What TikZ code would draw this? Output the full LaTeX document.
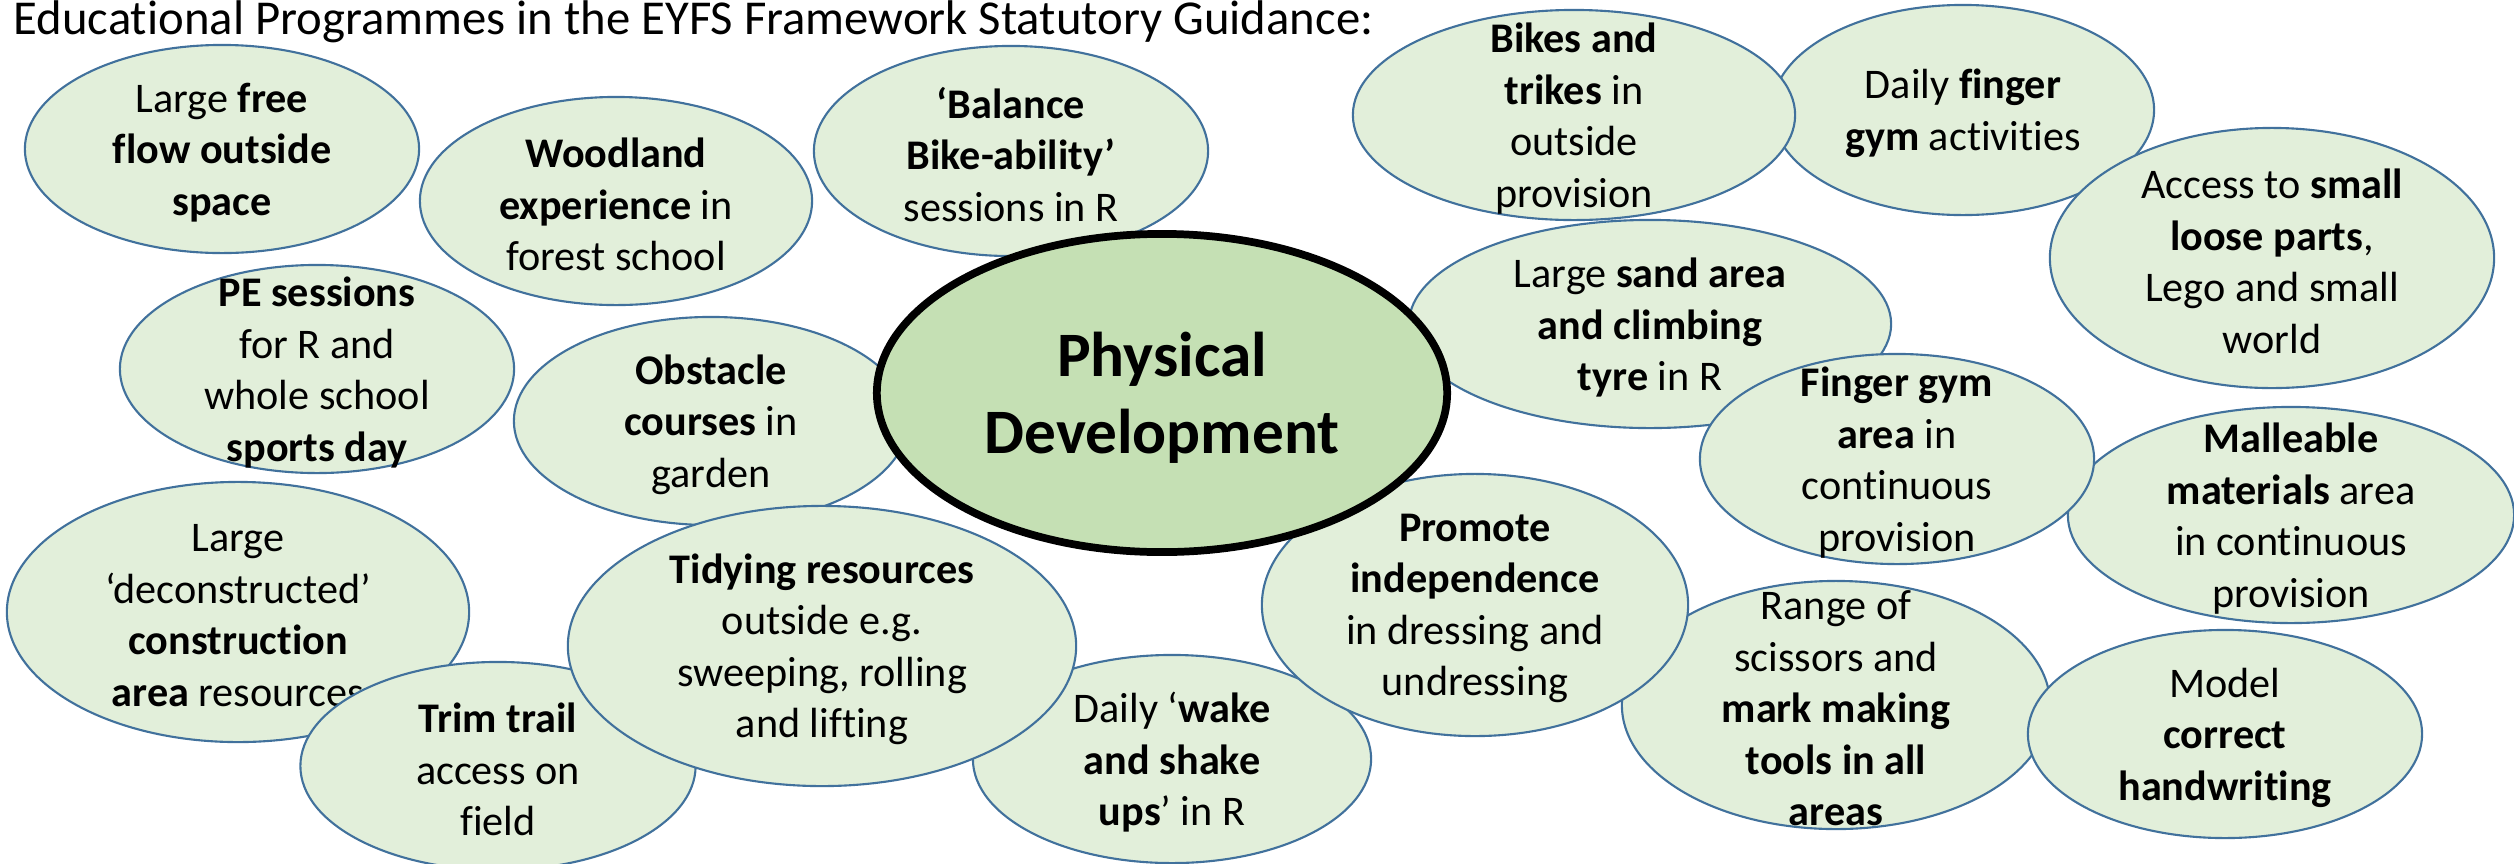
\documentclass[tikz,border=0pt]{standalone}
\usepackage{fontspec}
\setmainfont{Carlito}[Ligatures=NoCommon]
\usetikzlibrary{shapes.geometric}
\definecolor{bubfill}{HTML}{E2EFDA}
\definecolor{bubline}{HTML}{41719C}
\definecolor{corefill}{HTML}{C5E0B4}
\begin{document}
\begin{tikzpicture}[x=0.01cm,y=-0.01cm,
  bub/.style 2 args={ellipse, draw=bubline, fill=bubfill, line width=0.6pt,
    minimum width=#1, minimum height=#2, inner sep=0pt},
  txt/.style={align=center, font=\fontsize{12}{14.65}\selectfont, inner sep=0pt, yshift=-0.035cm},
  core/.style={ellipse, draw=black, fill=corefill, line width=2.2pt,
    minimum width=5.7cm, minimum height=3.18cm, inner sep=0pt},
  coretxt/.style={align=center, font=\fontsize{18}{22}\selectfont\bfseries, inner sep=0pt, yshift=-0.045cm},
  titletxt/.style={font=\fontsize{13.85}{16}\selectfont, inner sep=0pt}]
\useasboundingbox (0,0) rectangle (2514,863);

\node[titletxt, anchor=base west] (title) at (13,34) {Educational Programmes in the EYFS Framework Statutory Guidance:};

\node[bub={3.94cm}{2.08cm}] (A) at (222,149) {};
\node[txt] (tA) at (A) {Large \textbf{free}\\\textbf{flow outside}\\\textbf{space}};

\node[bub={3.92cm}{2.08cm}] (B) at (616,201) {};
\node[txt] (tB) at (B) {\textbf{Woodland}\\\textbf{experience} in\\forest school};

\node[bub={3.94cm}{2.10cm}] (C) at (1011,151) {};
\node[txt] (tC) at (C) {\textbf{‘Balance}\\\textbf{Bike-ability’}\\sessions in R};

\node[bub={3.94cm}{2.08cm}] (D) at (317,369) {};
\node[txt] (tD) at (D) {\textbf{PE sessions}\\for R and\\whole school\\\textbf{sports day}};

\node[bub={3.94cm}{2.08cm}] (E) at (711,421) {};
\node[txt] (tE) at (E) {\textbf{Obstacle}\\\textbf{courses} in\\garden};

\node[bub={4.62cm}{2.60cm}] (F) at (238,612) {};
\node[txt] (tF) at (F) {Large\\‘deconstructed’\\\textbf{construction}\\\textbf{area} resources};

\node[bub={3.95cm}{2.08cm}] (G) at (498,766) {};
\node[txt] (tG) at (G) {\textbf{Trim trail}\\access on\\field};

\node[bub={3.98cm}{2.08cm}] (I) at (1172,759) {};
\node[txt] (tI) at (I) {Daily ‘\textbf{wake}\\\textbf{and shake}\\\textbf{ups}’ in R};

\node[bub={5.08cm}{2.80cm}] (H) at (822,646) {};
\node[txt] (tH) at (H) {\textbf{Tidying resources}\\outside e.g.\\sweeping, rolling\\and lifting};

\node[bub={4.82cm}{2.08cm}] (M) at (1650,324) {};
\node[txt] (tM) at (M) {Large \textbf{sand area}\\\textbf{and climbing}\\\textbf{tyre} in R};

\node[bub={3.82cm}{2.10cm}] (K) at (1963,110) {};
\node[txt] (tK) at (K) {Daily \textbf{finger}\\\textbf{gym} activities};

\node[bub={4.42cm}{2.10cm}] (J) at (1574,115) {};
\node[txt] (tJ) at (J) {\textbf{Bikes and}\\\textbf{trikes} in\\outside\\provision};

\node[bub={4.44cm}{2.60cm}] (L) at (2272,258) {};
\node[txt] (tL) at (L) {Access to \textbf{small}\\\textbf{loose parts},\\Lego and small\\world};

\node[bub={4.46cm}{2.16cm}] (O) at (2291,515) {};
\node[txt] (tO) at (O) {\textbf{Malleable}\\\textbf{materials} area\\in continuous\\provision};

\node[bub={3.94cm}{2.10cm}] (N) at (1897,459) {};
\node[txt] (tN) at (N) {\textbf{Finger gym}\\\textbf{area} in\\continuous\\provision};

\node[bub={4.28cm}{2.48cm}] (Q) at (1836,705) {};
\node[txt] (tQ) at (Q) {Range of\\scissors and\\\textbf{mark making}\\\textbf{tools in all}\\\textbf{areas}};

\node[bub={4.26cm}{2.62cm}] (P) at (1475,605) {};
\node[txt] (tP) at (P) {\textbf{Promote}\\\textbf{independence}\\in dressing and\\undressing};

\node[bub={3.94cm}{2.08cm}] (R) at (2225,734) {};
\node[txt] (tR) at (R) {Model\\\textbf{correct}\\\textbf{handwriting}};

\node[core] (core) at (1162,393) {};
\node[coretxt] (tcore) at (core) {Physical\\Development};
\end{tikzpicture}
\end{document}
